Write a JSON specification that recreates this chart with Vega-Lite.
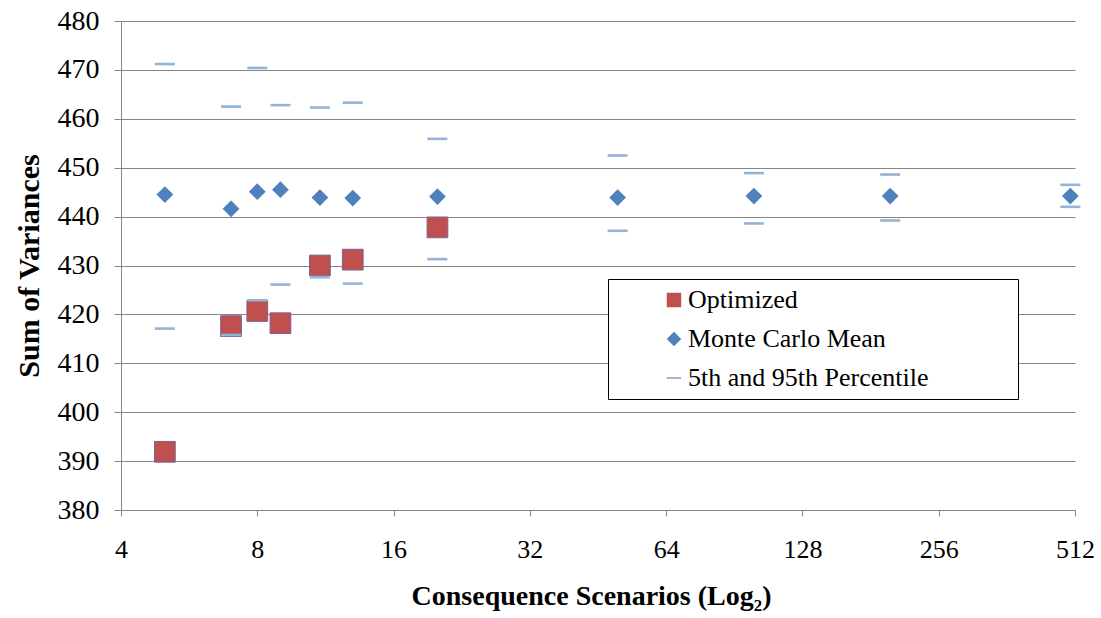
{
  "$schema": "https://vega.github.io/schema/vega-lite/v6.json",
  "autosize": "none",
  "width": 954,
  "height": 489,
  "padding": {"left": 121, "top": 21, "right": 26, "bottom": 108},
  "background": "white",
  "config": {
    "font": "Liberation Serif",
    "view": {"stroke": null},
    "axis": {
      "labelFont": "Liberation Serif",
      "titleFont": "Liberation Serif",
      "labelColor": "black",
      "titleColor": "black",
      "titleFontWeight": "bold",
      "domainColor": "#868686",
      "tickColor": "#868686",
      "gridColor": "#868686"
    }
  },
  "data": {
    "values": [
      {"x": 5, "series": "Optimized", "value": 391.9},
      {"x": 7, "series": "Optimized", "value": 417.6},
      {"x": 8, "series": "Optimized", "value": 420.7},
      {"x": 9, "series": "Optimized", "value": 418.2},
      {"x": 11, "series": "Optimized", "value": 430.0},
      {"x": 13, "series": "Optimized", "value": 431.2},
      {"x": 20, "series": "Optimized", "value": 437.8},
      {"x": 5, "series": "Monte Carlo Mean", "value": 444.5},
      {"x": 7, "series": "Monte Carlo Mean", "value": 441.6},
      {"x": 8, "series": "Monte Carlo Mean", "value": 445.1},
      {"x": 9, "series": "Monte Carlo Mean", "value": 445.5},
      {"x": 11, "series": "Monte Carlo Mean", "value": 443.9},
      {"x": 13, "series": "Monte Carlo Mean", "value": 443.8},
      {"x": 20, "series": "Monte Carlo Mean", "value": 444.1},
      {"x": 50, "series": "Monte Carlo Mean", "value": 443.9},
      {"x": 100, "series": "Monte Carlo Mean", "value": 444.2},
      {"x": 200, "series": "Monte Carlo Mean", "value": 444.2},
      {"x": 500, "series": "Monte Carlo Mean", "value": 444.2},
      {"x": 5, "series": "5th and 95th Percentile", "value": 471.2},
      {"x": 5, "series": "5th and 95th Percentile", "value": 417.1},
      {"x": 7, "series": "5th and 95th Percentile", "value": 462.5},
      {"x": 7, "series": "5th and 95th Percentile", "value": 415.8},
      {"x": 8, "series": "5th and 95th Percentile", "value": 470.4},
      {"x": 8, "series": "5th and 95th Percentile", "value": 422.9},
      {"x": 9, "series": "5th and 95th Percentile", "value": 462.8},
      {"x": 9, "series": "5th and 95th Percentile", "value": 426.1},
      {"x": 11, "series": "5th and 95th Percentile", "value": 462.3},
      {"x": 11, "series": "5th and 95th Percentile", "value": 427.6},
      {"x": 13, "series": "5th and 95th Percentile", "value": 463.3},
      {"x": 13, "series": "5th and 95th Percentile", "value": 426.3},
      {"x": 20, "series": "5th and 95th Percentile", "value": 455.9},
      {"x": 20, "series": "5th and 95th Percentile", "value": 431.3},
      {"x": 50, "series": "5th and 95th Percentile", "value": 452.5},
      {"x": 50, "series": "5th and 95th Percentile", "value": 437.1},
      {"x": 100, "series": "5th and 95th Percentile", "value": 448.9},
      {"x": 100, "series": "5th and 95th Percentile", "value": 438.6},
      {"x": 200, "series": "5th and 95th Percentile", "value": 448.6},
      {"x": 200, "series": "5th and 95th Percentile", "value": 439.2},
      {"x": 500, "series": "5th and 95th Percentile", "value": 446.5},
      {"x": 500, "series": "5th and 95th Percentile", "value": 442.0}
    ]
  },
  "mark": {"type": "point", "filled": true, "opacity": 1},
  "encoding": {
    "x": {
      "field": "x",
      "type": "quantitative",
      "scale": {"type": "log", "base": 2, "domain": [4, 512], "nice": false},
      "axis": {
        "values": [4, 8, 16, 32, 64, 128, 256, 512],
        "format": "d",
        "grid": false,
        "tickSize": 6,
        "labelFontSize": 26,
        "labelPadding": 20,
        "titleFontSize": 28,
        "titlePadding": 20,
        "titleX": 470,
        "title": "Consequence Scenarios (Log₂)",
        "labelFlush": false
      }
    },
    "y": {
      "field": "value",
      "type": "quantitative",
      "scale": {"domain": [380, 480], "nice": false, "zero": false},
      "axis": {
        "values": [380, 390, 400, 410, 420, 430, 440, 450, 460, 470, 480],
        "grid": true,
        "tickSize": 7,
        "labelFontSize": 28,
        "labelPadding": 15,
        "titleFontSize": 30,
        "titlePadding": 13,
        "title": "Sum of Variances"
      }
    },
    "color": {
      "field": "series",
      "type": "nominal",
      "scale": {
        "domain": ["Optimized", "Monte Carlo Mean", "5th and 95th Percentile"],
        "range": ["#C0504D", "#4F81BD", "#95B3D7"]
      },
      "legend": {
        "title": "\u00a0",
        "titleOrient": "right",
        "titlePadding": 82,
        "titleFontSize": 10,
        "orient": "none",
        "legendX": 487,
        "legendY": 258,
        "strokeColor": "black",
        "fillColor": "white",
        "padding": 8,
        "rowPadding": 13,
        "symbolOffset": 45,
        "labelOffset": 1,
        "symbolSize": 210,
        "labelLimit": 1000,
        "labelFont": "Liberation Serif",
        "labelColor": "black",
        "labelFontSize": 26
      }
    },
    "shape": {
      "field": "series",
      "type": "nominal",
      "scale": {
        "domain": ["Optimized", "Monte Carlo Mean", "5th and 95th Percentile"],
        "range": ["square", "diamond", "M-1,-0.13H1V0.13H-1Z"]
      },
      "legend": null
    },
    "stroke": {
      "condition": {"test": "datum.series === 'Optimized'", "value": "#7F5F9B"},
      "value": null
    },
    "strokeWidth": {"value": 1},
    "size": {
      "condition": [
        {"test": "datum.series === 'Optimized'", "value": 430},
        {"test": "datum.series === 'Monte Carlo Mean'", "value": 280}
      ],
      "value": 400
    }
  }
}
